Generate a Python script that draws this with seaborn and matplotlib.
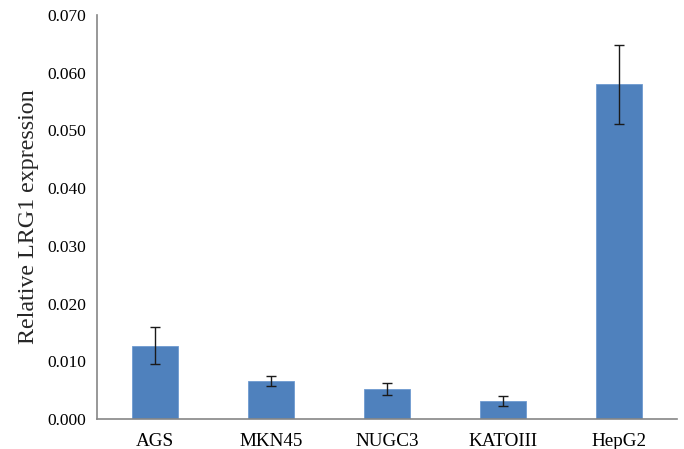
import matplotlib
matplotlib.use("Agg")
import matplotlib.pyplot as plt
import seaborn as sns
import pandas as pd
from matplotlib.ticker import FixedLocator

cell_lines = ["AGS", "MKN45", "NUGC3", "KATOIII", "HepG2"]
expression = [0.0127, 0.0066, 0.0052, 0.0031, 0.0580]
errors = [0.0032, 0.0008, 0.0011, 0.0009, 0.0068]
y_ticks = [0.000, 0.010, 0.020, 0.030, 0.040, 0.050, 0.060, 0.070]

df = pd.DataFrame({"cell": cell_lines, "value": expression})

sns.set_style("white")
plt.rcParams["font.family"] = ["Liberation Serif", "DejaVu Serif"]

fig = plt.figure(figsize=(6.84, 4.49), dpi=100)
ax = fig.add_axes([0.1418, 0.0668, 0.848, 0.8998])

sns.barplot(data=df, x="cell", y="value", color="#4F81BD", width=0.4,
            saturation=1, errorbar=None, ax=ax, edgecolor="#6F9BD1", linewidth=0.6)
ax.errorbar(range(len(cell_lines)), expression, yerr=errors, fmt="none",
            ecolor="#1a1a1a", elinewidth=1.0, capsize=3.5, capthick=1.0)

ax.set_xlim(-0.5, len(cell_lines) - 0.5)
ax.set_ylim(0, 0.070)
ax.set_yticks(y_ticks)
ax.set_yticklabels([f"{t:.3f}" for t in y_ticks])
ax.xaxis.set_minor_locator(FixedLocator([i + 0.5 for i in range(len(cell_lines) - 1)]))

ax.tick_params(axis="x", which="major", length=0, pad=10, labelsize=13.8)
ax.tick_params(axis="x", which="minor", length=4, width=1, color="#868686", direction="out")
ax.tick_params(axis="y", length=4, width=1, color="#868686", direction="out", pad=4, labelsize=12.5)
ax.tick_params(axis="both", labelcolor="black")

for side in ("top", "right"):
    ax.spines[side].set_visible(False)
for side in ("left", "bottom"):
    ax.spines[side].set_color("#868686")
    ax.spines[side].set_linewidth(1.2)

ax.set_xlabel("")
ax.set_ylabel("Relative LRG1 expression", fontsize=17.3, labelpad=6)

fig.savefig("out.png", dpi=100)
